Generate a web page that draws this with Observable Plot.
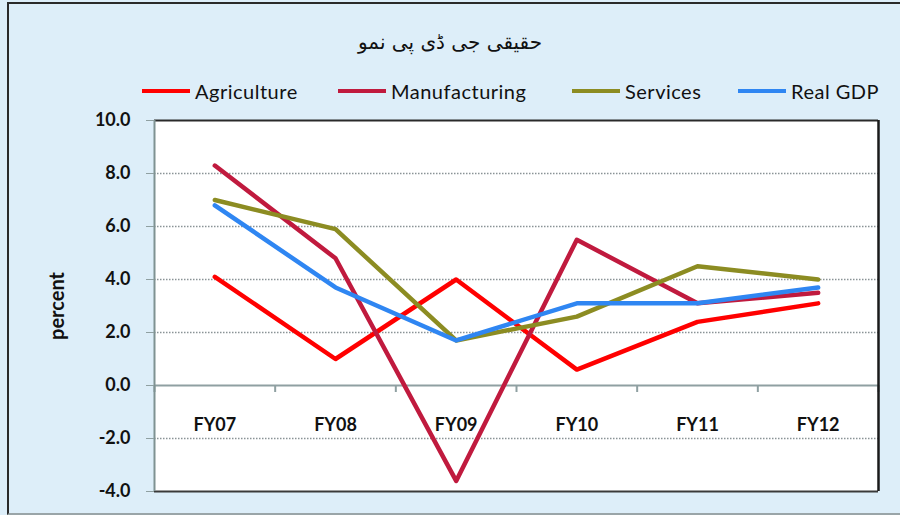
<!DOCTYPE html>
<html>
<head>
<meta charset="utf-8">
<script src="https://cdn.jsdelivr.net/npm/d3@7"></script>
<script src="https://cdn.jsdelivr.net/npm/@observablehq/plot@0.6"></script>
<style>
  html, body { margin: 0; padding: 0; background: #ffffff; }
  #wrap { position: relative; width: 900px; height: 515px; background: #ddeef9; overflow: hidden; font-family: Lato, "Open Sans", sans-serif; }
  #border { position: absolute; left: 7px; top: 2px; width: 900px; height: 509px; border-left: 2px solid #2a2a2a; border-top: 2px solid #2a2a2a; border-bottom: 2px solid #9aa5a8; }
  #title { position: absolute; left: 0; width: 900px; top: 30px; text-align: center; font-family: "DejaVu Sans", "Noto Sans", sans-serif; font-size: 20px; color: #111; direction: rtl; }
  .leg { position: absolute; top: 79px; height: 24px; display: flex; align-items: center; font-size: 20px; letter-spacing: 0.5px; color: #111; white-space: nowrap; }
  .leg .sw { width: 48px; height: 4px; margin-right: 5px; }
  #chart { position: absolute; left: 0; top: 105px; }
</style>
</head>
<body>
<div id="wrap">
  <div id="border"></div>
  <div id="title"></div>
  <div id="legend"></div>
  <div id="chart"></div>
</div>
<script>
const title = "حقیقی جی ڈی پی نمو";
const categories = ["FY07", "FY08", "FY09", "FY10", "FY11", "FY12"];
const seriesNames = ["Agriculture", "Manufacturing", "Services", "Real GDP"];
const agriculture = [4.1, 1.0, 4.0, 0.6, 2.4, 3.1];
const manufacturing = [8.3, 4.8, -3.6, 5.5, 3.1, 3.5];
const services = [7.0, 5.9, 1.7, 2.6, 4.5, 4.0];
const realGDP = [6.8, 3.7, 1.7, 3.1, 3.1, 3.7];
const colors = ["#ff0000", "#c01a3e", "#8c8c22", "#2f86f2"];
const yTicks = [-4, -2, 0, 2, 4, 6, 8, 10];
const yLabel = "percent";
const legendLeft = [142, 338, 572, 738];

document.getElementById("title").textContent = title;

const legend = document.getElementById("legend");
seriesNames.forEach((name, i) => {
  const item = document.createElement("div");
  item.className = "leg";
  item.style.left = legendLeft[i] + "px";
  const sw = document.createElement("div");
  sw.className = "sw";
  sw.style.background = colors[i];
  const t = document.createElement("span");
  t.textContent = name;
  item.appendChild(sw);
  item.appendChild(t);
  legend.appendChild(item);
});

const allSeries = [agriculture, manufacturing, services, realGDP];
const rows = [];
allSeries.forEach((vals, s) => {
  vals.forEach((v, i) => rows.push({series: seriesNames[s], idx: i + 0.5, cat: categories[i], value: v}));
});
const catRows = categories.map((c, i) => ({cat: c, idx: i + 0.5}));
const bounds = d3.range(categories.length + 1);
const yMin = d3.min(yTicks), yMax = d3.max(yTicks);
const grid = yTicks.filter(t => t !== 0 && t !== yMin && t !== yMax);

const plot = Plot.plot({
  width: 900,
  height: 410,
  marginTop: 15,
  marginBottom: 24,
  marginLeft: 154,
  marginRight: 22,
  style: {background: "transparent", fontFamily: "Lato, 'Open Sans', sans-serif", color: "#111"},
  x: {type: "linear", domain: [0, categories.length], axis: null},
  y: {domain: [yMin, yMax], ticks: yTicks, tickFormat: d => d.toFixed(1), label: null},
  color: {domain: seriesNames, range: colors},
  marks: [
    Plot.frame({fill: "white", stroke: null}),
    Plot.ruleY(grid, {stroke: "#8a9396", strokeWidth: 1.5, strokeDasharray: "1.5,1.5"}),
    Plot.ruleY([0], {stroke: "#8fa0a2", strokeWidth: 2}),
    Plot.ruleX(bounds, {y1: 0, y2: 0, insetBottom: -7, stroke: "#8fa0a2", strokeWidth: 2}),
    Plot.ruleY([yMax], {stroke: "#2a2a2a", strokeWidth: 2}),
    Plot.ruleY([yMin], {stroke: "#3a3a3a", strokeWidth: 2}),
    Plot.ruleX([categories.length], {stroke: "#1a1a1a", strokeWidth: 2.5}),
    Plot.ruleX([0], {stroke: "#7f9292", strokeWidth: 2}),
    Plot.axisY({ticks: yTicks, tickFormat: d => d.toFixed(1), tickSize: 8, tickPadding: 16, stroke: "#8fa0a2", fontSize: 18, fontWeight: "bold", label: null}),
    Plot.text([yLabel], {frameAnchor: "left", dx: -97, rotate: -90, textAnchor: "middle", fontSize: 20, fontWeight: "bold", fill: "#111"}),
    Plot.text(catRows, {x: "idx", y: 0, text: "cat", dy: 40, fontSize: 18, fontWeight: "bold", fill: "#111"}),
    Plot.line(rows, {x: "idx", y: "value", z: "series", stroke: "series", strokeWidth: 4.5, curve: "linear"})
  ]
});
document.getElementById("chart").appendChild(plot);
</script>
</body>
</html>
